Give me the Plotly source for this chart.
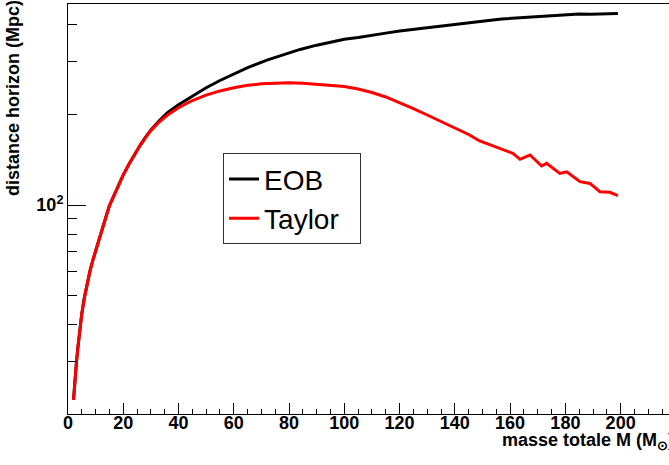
import plotly.graph_objects as go

# Total mass M (solar masses)
mass_taylor = [2, 2.5, 3, 3.5, 4, 4.5, 5, 6, 7, 8, 9, 10, 11, 12, 13, 14, 15, 16, 18, 20, 22, 24, 26, 28, 30,
               33, 36, 40, 45, 50, 55, 60, 65, 70, 75, 80, 85, 90, 95, 100, 105, 110, 115, 120, 125, 130, 135,
               140, 145, 149, 156, 161, 163.6, 167.2, 171.4, 173.2, 178, 180.5, 185.3, 188.9, 192.5, 196.1, 199]
dist_taylor = [22.4, 26.5, 29.5, 33, 36.5, 40, 43.5, 49.5, 55, 60.5, 65.5, 70.5, 75.5, 80.5, 86.5, 93, 99.5,
               104.5, 115.5, 126, 136.5, 147, 157.5, 167.5, 177, 189, 199.5, 211, 223, 232.5, 240, 246, 250.5,
               253.5, 255.2, 255.6, 254.8, 253, 251, 248.3, 243.6, 237.1, 229.1, 219.6, 209.7, 199.5, 189.8,
               180.6, 171.8, 163.5, 155, 148.7, 142, 146.8, 134.9, 137.7, 127.5, 129, 119.6, 118, 110.7,
               110.2, 107.4]

mass_eob = [2, 2.5, 3, 3.5, 4, 4.5, 5, 6, 7, 8, 9, 10, 11, 12, 13, 14, 15, 16, 18, 20, 22, 24, 26, 28, 30,
            33, 36, 40, 45, 50, 55, 60, 65, 72, 80, 84, 90, 95, 100, 105, 110, 115, 120, 125, 130, 135, 140,
            145, 149, 153, 157, 161, 165, 169, 173, 177, 181, 185, 189, 193, 196, 199]
dist_eob = [22.4, 26.5, 29.5, 33, 36.5, 40, 43.5, 49.5, 55, 60.5, 65.5, 70.5, 75.5, 80.5, 86.5, 93, 99.5,
            104.5, 115.5, 126, 136.5, 147, 157.5, 168, 178, 191, 203, 216, 231, 246, 260, 274, 287, 304, 321,
            330, 341, 349, 357, 362, 369, 374, 380, 385, 390, 396, 400, 405, 411, 413, 417, 419, 421, 423,
            427, 428, 431, 433, 432, 434, 436, 435]

x_major_ticks = list(range(0, 220, 20))
y_major_ticks = [100]
y_major_text = ["10<sup>2</sup>"]
y_minor_ticks = [20, 30, 40, 50, 60, 70, 80, 90, 200, 300, 400]

FONT = "Liberation Sans, Arial, Helvetica, sans-serif"

fig = go.Figure()
fig.add_trace(go.Scatter(x=mass_eob, y=dist_eob, mode="lines", name="EOB",
                         line=dict(color="#000000", width=3)))
fig.add_trace(go.Scatter(x=mass_taylor, y=dist_taylor, mode="lines", name="Taylor\u00a0\u00a0",
                         line=dict(color="#ff0000", width=3)))

fig.update_layout(
    width=669, height=465,
    margin=dict(l=68, r=0, t=4, b=51),
    paper_bgcolor="white", plot_bgcolor="white",
    showlegend=True,
    legend=dict(x=0.258, y=0.636, xanchor="left", yanchor="top",
                bgcolor="white", bordercolor="#333333", borderwidth=1,
                font=dict(family=FONT, size=28, color="black"),
                tracegroupgap=0, itemwidth=30),
    xaxis=dict(range=[0, 217.5], showgrid=False, zeroline=False,
               showline=True, linecolor="black", linewidth=1, mirror=True,
               tickvals=x_major_ticks, ticks="inside", ticklen=11, tickcolor="black",
               ticklabelstandoff=-8,
               minor=dict(dtick=5, tick0=0, ticks="inside", ticklen=5, tickcolor="black"),
               tickfont=dict(family=FONT, size=18, color="black", weight="bold")),
    yaxis=dict(type="log", range=[1.3033, 2.67], showgrid=False, zeroline=False,
               showline=True, linecolor="black", linewidth=1,
               tickvals=y_major_ticks, ticktext=y_major_text,
               ticks="inside", ticklen=18, tickcolor="black",
               minor=dict(tickvals=y_minor_ticks, ticks="inside", ticklen=9, tickcolor="black"),
               tickfont=dict(family=FONT, size=18, color="black", weight="bold")),
    annotations=[
        dict(text="masse totale M (M<sub>⊙</sub>)", xref="paper", yref="paper",
             x=1.0116, y=-0.034, xanchor="right", yanchor="top", showarrow=False,
             font=dict(family=FONT, size=18, color="black", weight="bold")),
        dict(text="distance horizon (Mpc)", xref="paper", yref="paper", textangle=-90,
             x=-0.0915, y=0.7707, xanchor="center", yanchor="middle", showarrow=False,
             font=dict(family=FONT, size=18, color="black", weight="bold")),
    ],
)

fig.write_html("out.html", config={"displayModeBar": False},
               post_script="document.body.style.margin='0';")
